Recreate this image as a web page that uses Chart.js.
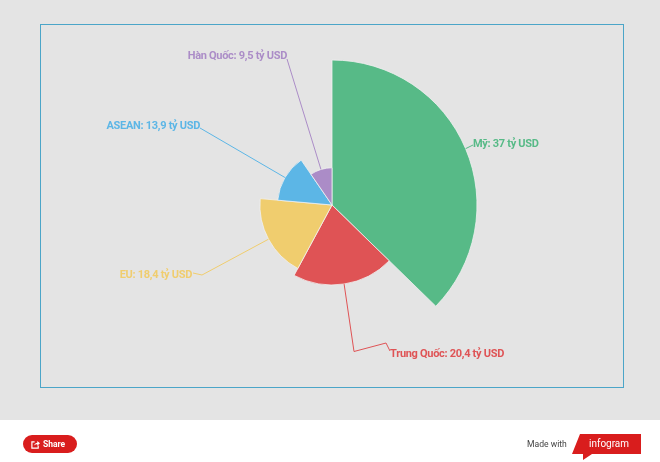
<!DOCTYPE html>
<html>
<head>
<meta charset="utf-8">
<script src="https://cdn.jsdelivr.net/npm/chart.js@4"></script>
<style>
html, body { margin: 0; padding: 0; width: 660px; height: 462px; overflow: hidden; background: #fff; font-family: Roboto, sans-serif; }
#top { position: absolute; left: 0; top: 0; width: 660px; height: 420px; background: #e4e4e4; }
#frame { position: absolute; left: 40px; top: 24px; width: 582px; height: 362px; border: 1px solid #4ba5c8; }
#myChart { position: absolute; left: 0; top: 0; }
#share { position: absolute; left: 23px; top: 435px; width: 54px; height: 18px; border-radius: 9px; background: #d91d1d; color: #fff; font-size: 8.5px; font-weight: 700; line-height: 18px; }
#share svg { position: absolute; left: 8px; top: 5px; }
#share span { position: absolute; left: 20px; }
#made { position: absolute; left: 527px; top: 437px; font-size: 8.6px; line-height: 14px; color: #444; }
#logo { position: absolute; left: 570px; top: 433px; }
</style>
</head>
<body>
<div id="top"></div>
<div id="frame"></div>
<canvas id="myChart" width="660" height="462"></canvas>
<div id="share">
  <svg width="9" height="9" viewBox="0 0 10 10"><path d="M4 2H1v7h7V6" fill="none" stroke="#fff" stroke-width="1.3"/><path d="M3.5 6C4 4 5.5 3 7 3V1l3 2.7L7 6.4V4.6C5.5 4.6 4.5 5 3.5 6z" fill="#fff"/></svg>
  <span>Share</span>
</div>
<div id="made">Made with</div>
<svg id="logo" width="72" height="28" viewBox="0 0 72 28">
  <path d="M10 1H71V21H22L13 27V21H2z" fill="#d91d1d"/>
  <text x="19" y="14" fill="#fff" font-family="Roboto" font-size="11.5" textLength="40" lengthAdjust="spacingAndGlyphs">infogram</text>
</svg>
<script>
const labels = ['Mỹ', 'Trung Quốc', 'EU', 'ASEAN', 'Hàn Quốc']
const values = [37, 20.4, 18.4, 13.9, 9.5]
const colors = ['#57ba87', '#df5355', '#f0cd6e', '#5cb6e6', '#ab8cc7']

const total = values.reduce((a, b) => a + b, 0)

// where each label sits, and the bends of its leader line
const callouts = [
    { align: 'left', x: 473, y: 144, bends: [[473, 145]] },
    { align: 'left', x: 390, y: 354, bends: [[354, 351.5], [386, 343], [390, 351]] },
    { align: 'right', x: 192, y: 275, bends: [[202, 275], [193, 273]] },
    { align: 'right', x: 200, y: 126, bends: [[200, 128]] },
    { align: 'right', x: 287, y: 56.5, bends: [[287, 59]] }
]

const calloutPlugin = {
    id: 'callouts',
    afterDatasetsDraw(chart) {
        const ctx = chart.ctx
        const arcs = chart.getDatasetMeta(0).data
        ctx.save()
        ctx.font = "700 11px Roboto"
        ctx.letterSpacing = '-0.3px'
        ctx.textBaseline = 'middle'
        arcs.forEach((arc, i) => {
            const c = callouts[i]
            const mid = (arc.startAngle + arc.endAngle) / 2
            ctx.strokeStyle = colors[i]
            ctx.fillStyle = colors[i]
            ctx.lineWidth = 1
            ctx.beginPath()
            ctx.moveTo(arc.x + Math.cos(mid) * arc.outerRadius, arc.y + Math.sin(mid) * arc.outerRadius)
            c.bends.forEach(b => ctx.lineTo(b[0], b[1]))
            ctx.stroke()
            ctx.textAlign = c.align
            ctx.fillText(labels[i] + ': ' + String(values[i]).replace('.', ',') + ' tỷ USD', c.x, c.y)
        })
        ctx.restore()
    }
}

const myChart = new Chart(document.getElementById('myChart'), {
    type: 'polarArea',
    data: {
        labels: labels,
        datasets: [{
            data: values,
            backgroundColor: colors,
            borderColor: '#f0f0f0',
            borderWidth: 0.8,
            // radius comes from the r scale, sweep is proportional to the value too
            angle: c => 360 * values[c.dataIndex] / total
        }]
    },
    options: {
        responsive: false,
        animation: false,
        layout: { padding: { left: 187, right: 183, top: 60, bottom: 112 } },
        plugins: { legend: { display: false }, tooltip: { enabled: false } },
        scales: {
            r: {
                min: 0,
                max: 37,
                grid: { display: false },
                angleLines: { display: false },
                ticks: { display: false }
            }
        }
    },
    plugins: [calloutPlugin]
})
</script>
</body>
</html>
